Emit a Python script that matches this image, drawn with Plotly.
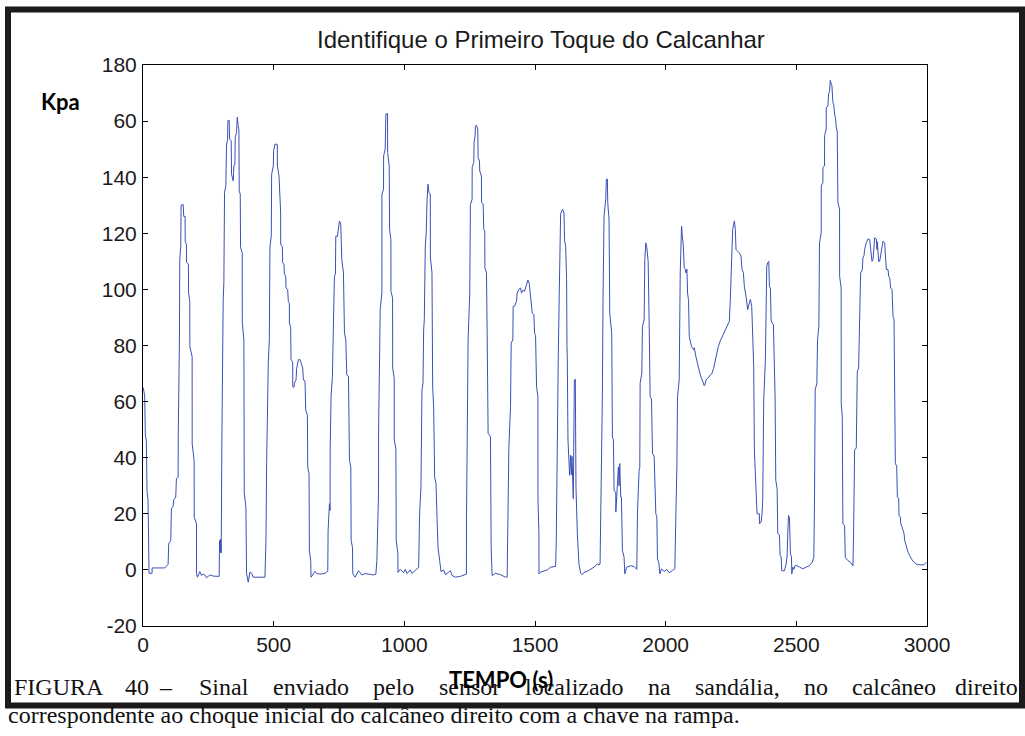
import plotly.graph_objects as go

# (tempo [s], pressao [kPa])
amostras = [
    (1,65),(6.5,62),(9,48),(12.9,46),(15.4,28),(19.2,25),(23.1,-1.2),(34.6,-1.2),(35,0.7),(83.2,0.7),
    (96,2),(98.5,9.4),(106.2,10.5),(108.7,22),(115.1,22.5),(117.7,25),(125.3,26),(127.9,32.6),(134.3,33),
    (135,48.7),(139.4,82),(140.7,110.7),(144.5,115.4),(145.8,130),(153.5,130.3),(156,126),(161.1,126),
    (161.5,117),(166.3,116),(166.5,109.7),(173.9,109),(174,99),(179,95.7),(179.3,79.6),(188,76),(188.2,45),
    (195.7,39),(196,18.8),(204.6,16.5),(205,-1.3),(208.4,-2.6),(217.4,-0.6),(223.8,-2),(230.2,-1.5),
    (236.6,-1.8),(243,-2.8),(255.7,-1.8),(268.5,-2.2),(287.7,-2.3),(291.5,-2.3),(292.8,10.5),(295.4,6.3),
    (296.6,11),(299.2,6),(301.8,46),(304.3,82),(306.9,96.4),(309.4,102.4),(312,134.6),(317.1,137),
    (319.7,151.8),(323.5,153),(324.8,160.2),(329.9,160.3),(331.2,153.6),(337.5,153),(338.8,141),
    (345.2,138.7),(347.8,144),(351.6,144.6),(352.9,154.2),(358,156),(360.6,161.4),(364.4,158.4),(367,157),
    (368.2,135),(372.1,134),(373.3,115),(379.7,113),(380,88),(386.1,82),(387.4,27.3),(393.8,22.4),
    (396.3,-1.3),(402.7,-4.4),(409.1,-0.8),(415.5,-1.2),(421.9,-2.6),(466.7,-2.6),(470.5,10.5),(473.1,38),
    (479.4,73.8),(483.3,82),(485.8,115.4),(490.9,119),(492.2,141),(498.6,144),(499.9,149.4),(505,151.8),
    (513.9,151.7),(514.3,144),(520.4,140.5),(524.2,128),(526.7,127.5),(527,116),(533.1,115.2),(534.4,109.5),
    (539.5,109),(540.8,105.3),(545.9,105),(547.2,100.5),(553.6,100),(556.1,95.7),(560,95),(560.3,88),
    (565.1,86.5),(566.4,75),(572.8,74),(573,65.3),(577.9,65.1),(579.1,66.5),(585.5,67.7),(588.1,71.9),
    (594.5,74.9),(600.9,75),(607.3,72.5),(611.1,72),(613.7,67.7),(620,67.3),(622.6,57),(629,55.2),
    (630.3,36.7),(635.4,34.3),(636.7,6.9),(641.8,3.3),(643.1,-2.6),(652,-1.2),(658.4,-0.5),(664.8,-1.3),
    (677.6,-1.5),(696.7,-1.2),(707,-0.5),(708.3,14),(713.4,23.6),(715.9,21.2),(716.2,42.7),(719.8,62.4),
    (724.9,68.9),(728.7,88),(732.6,104.7),(736.4,105.5),(737.7,119),(744,118.9),(747.9,122),(751.7,124.4),
    (756.8,123.2),(760.7,110.7),(767,105.9),(770.9,84.4),(776,82),(779.8,69.5),(786.2,69),(788.8,57),
    (790.1,39),(795.2,36.7),(796.5,10.5),(801.6,8),(802.9,-1.4),(811.8,-2.6),(824.6,-0.3),(837.4,-1.8),
    (850.1,-1.3),(869.3,-1.6),(882.1,-1.8),(891,-1.6),(894.9,3.3),(901.3,27.3),(901.5,49.8),(907.7,92.8),
    (914.1,98.8),(914.3,134),(920.5,135.7),(920.7,147.6),(926.8,150),(929.4,162.5),(935.8,162.7),
    (936,148.8),(942.2,144),(943.5,121.4),(948.6,117.8),(948.8,99.3),(955,97),(955.5,71.9),(961.3,68.3),
    (961.5,46.3),(967.7,43.3),(969,10.5),(975.4,5.7),(975.6,-0.9),(984.4,0.2),(997.2,-1),(1003.5,0.2),
    (1009.9,-1.3),(1022.7,0),(1029.1,-1.2),(1041.9,-0.3),(1054.7,0.9),(1058.5,20),(1063.6,29.6),
    (1067.5,64.2),(1071.3,66.5),(1073.9,85.6),(1076.4,89.2),(1080.2,115.4),(1084.1,120.8),(1086.6,131),
    (1090.5,137.5),(1094.3,134.5),(1099.4,134),(1099.7,111.3),(1105.8,106),(1108.4,65.3),(1112.2,58.2),
    (1116.1,33.1),(1121.2,30.8),(1125,18.8),(1128.9,8.1),(1135.2,3.3),(1140.3,-0.6),(1150.6,0),(1157,-1.7),
    (1169.8,-0.8),(1176.2,-0.3),(1182.6,-2),(1195.4,-2.6),(1214.5,-2.3),(1227.3,-1.7),(1237.6,-1.5),
    (1238,18.8),(1240.1,41.5),(1244,82),(1250.3,98.7),(1252.9,130.3),(1259.3,132.1),(1259.6,143.5),
    (1265.7,145.3),(1267,152.4),(1270.8,154.8),(1272.1,158.1),(1275.9,158.6),(1281,157),(1282.3,147),
    (1287.4,145.8),(1288.7,142.2),(1295.1,140.4),(1295.4,131),(1301.5,130.5),(1304,121.4),(1307.9,120.8),
    (1308.2,107.7),(1314.3,105.9),(1316.8,85.6),(1320.6,48.7),(1329.6,47.5),(1332.2,8.1),(1336,-2),
    (1348.8,-1.2),(1368,-1.7),(1387.1,-2.6),(1393.5,-2.6),(1396.1,12.9),(1399.9,43.3),(1406.3,58.2),
    (1408.9,80.9),(1415.2,82),(1416.5,94),(1421.6,94),(1429.3,95.7),(1431.9,98.7),(1438.3,100),
    (1444.6,100.5),(1448.5,98.7),(1454.9,99.8),(1460,99.3),(1463.8,100.5),(1467.6,101.8),(1472.8,103.3),
    (1477.9,102.2),(1480.4,99.8),(1483,96.4),(1486.8,94),(1489.4,91.6),(1495.8,91),(1498.3,84.4),
    (1502.2,83.5),(1506,65.3),(1511.1,61.8),(1511.4,24.8),(1515,12.9),(1515.3,-1.4),(1521.3,-0.8),
    (1534.1,-0.5),(1546.9,0),(1559.7,1),(1572.5,1),(1578.9,1.2),(1581.4,10.5),(1585.3,58.2),(1589.1,76),
    (1592.9,98.8),(1595.5,125),(1598,126.8),(1601.9,128),(1605.7,128.6),(1610.8,127.2),(1613.4,117.2),
    (1617.2,115.4),(1621,103.5),(1622.3,80),(1623.6,74.9),(1626.2,46.3),(1632.5,33.7),(1636.4,40.9),
    (1639,34),(1641.5,40.5),(1644.1,33.7),(1646.6,25.4),(1650.5,67.7),(1654.3,68),(1656.8,29.6),
    (1662,12.9),(1668.3,2),(1674.7,-1.2),(1681.1,-1.7),(1687.5,-0.9),(1700.3,-0.5),(1713.1,0.2),
    (1725.9,1),(1738.7,2.1),(1745,1.7),(1748.9,2.1),(1751.4,18.8),(1755.3,28.4),(1757.8,61.8),
    (1760.4,97.5),(1764.2,126.2),(1768.1,129.7),(1770.6,132.1),(1773.2,139.3),(1777,139.3),(1778.3,131),
    (1783.4,125),(1786,91.6),(1789.8,88),(1793.6,84.4),(1796.2,47.4),(1800,46.5),(1802.6,28.4),(1809,27.5),
    (1809.3,20.6),(1812.8,27.2),(1819.2,36.7),(1821.7,30),(1824.3,37.9),(1828.1,26),(1830.7,26),
    (1834.5,6.9),(1840.9,4.5),(1843.5,-1.4),(1851.1,1),(1866.5,1.5),(1879.3,1.2),(1889.5,0.2),(1892,20),
    (1898.4,35.5),(1901,36.5),(1902.3,66.5),(1908.7,70.1),(1911.2,86.8),(1917.6,89.2),(1920.2,110.7),
    (1924,116.6),(1927.9,115),(1930.4,112),(1933,110),(1936.8,88),(1940.6,61.8),(1945.7,61),(1949.6,41.5),
    (1956,40.5),(1962.4,20),(1966.2,19),(1968.7,3.9),(1973.9,2.5),(1977.7,-1.4),(1984.1,0.4),
    (1994.3,-0.6),(2004.5,0.2),(2013.5,-1),(2026.3,-0.2),(2035.2,0.4),(2039.1,20),(2042.9,36.7),
    (2045.4,61.8),(2051.8,67.7),(2055.7,105.9),(2058.2,119),(2060.8,122.6),(2063.3,119.5),(2067.2,116),
    (2071,107.7),(2074.9,107.2),(2077.4,105.9),(2081.3,107.2),(2083.8,98.7),(2087.6,96),(2090.2,83.2),
    (2094,82),(2099.2,79.6),(2106.8,78.5),(2109.4,79.2),(2115.8,76),(2122.1,73.1),(2128.5,71.3),
    (2132.4,69.5),(2137.5,68.3),(2141.3,67.1),(2147.7,65.6),(2150.3,66),(2154.1,67.7),(2160.5,68.3),
    (2166.9,68.9),(2177.1,70.1),(2183.5,71.9),(2189.9,74.9),(2196.3,76.7),(2201.4,79.6),(2207.8,81.4),
    (2214.2,82.6),(2221.8,84.4),(2228.2,85.6),(2234.6,86.8),(2241,88),(2243.6,88.6),(2247.4,96.4),
    (2250,103.5),(2253.8,113.1),(2256.4,121.4),(2260.2,123.2),(2262.8,124.4),(2266.6,121.4),(2269.2,114.2),
    (2275.5,113.6),(2281.9,113),(2288.3,111.9),(2292.2,107.1),(2297.3,106),(2301.1,101.1),(2307.5,97.5),
    (2311.3,94),(2313.9,92.8),(2320.3,95.2),(2324.1,96.4),(2329.3,94),(2333.1,82),(2336.9,72.5),
    (2339.5,42.7),(2345.8,27.2),(2349.7,20),(2358.6,20),(2358.9,16.5),(2365,17),(2368.9,20),(2371.4,25),
    (2375.2,60.6),(2381.6,74.9),(2384.2,88),(2386.8,108.3),(2390.6,109.5),(2394.5,110),(2397,101.1),
    (2400.8,100.5),(2403.4,89.2),(2407.2,88),(2412.3,87.4),(2416.2,75),(2418.7,61.8),(2421.3,32),
    (2426.4,29),(2429,12.9),(2435.4,12.5),(2437.9,5.1),(2441.7,4.8),(2444.3,-0.3),(2454.5,-0.3),
    (2460.9,2.1),(2464.8,5),(2467.3,12.9),(2469.9,19.4),(2473.7,18.6),(2476.3,12.9),(2477.5,5.7),
    (2481.4,4.8),(2482.7,-1.4),(2486.5,1),(2490.3,0.2),(2495.4,1.5),(2503.1,1.5),(2512,1),(2524.8,0.4),
    (2537.6,1),(2550.4,1.5),(2560.6,2.7),(2567,4.5),(2569.6,26),(2572.1,64.2),(2578.5,66.5),(2581.1,82),
    (2586.2,86.8),(2588.7,116.6),(2595.1,120.2),(2595.4,136.9),(2601.5,138.1),(2601.8,143.5),(2607.9,144),
    (2608.2,154.8),(2614.3,157.2),(2614.6,164.9),(2620.7,165.3),(2623.3,169.7),(2627.1,170.5),
    (2629.7,174.5),(2633.5,173.3),(2636.1,172.7),(2639.9,166.7),(2643.7,165.5),(2646.3,162.5),
    (2650.1,161),(2652.7,157.8),(2656.5,156.5),(2659.1,131),(2665.4,128.6),(2665.7,104.7),(2671.5,100.5),
    (2671.8,59.4),(2675.7,54.6),(2678.2,16.5),(2684.6,15.8),(2687.2,4.5),(2697.4,3.3),(2707.6,2.7),
    (2716.6,1.5),(2719.1,12.9),(2723,42.7),(2729.4,43.5),(2733.2,70.7),(2738.3,72),(2742.2,92.8),
    (2746,105.9),(2752.4,107),(2754.9,111.3),(2758.8,112),(2761.3,114.2),(2767.7,116.6),(2774.1,118),
    (2780.5,117.8),(2784.3,113.6),(2789.5,110),(2793.3,110.5),(2797.1,114.8),(2799.7,118.4),(2806.1,118),
    (2808.6,114.2),(2809.9,117),(2815,110),(2818.9,110),(2822.7,112.7),(2827.8,114.8),(2831.6,117.2),
    (2838,116.6),(2840.6,111.9),(2844.4,107.1),(2850.8,107.1),(2853.4,104.7),(2857.2,104.1),(2861.1,100.5),
    (2866.2,100),(2869.9,90.4),(2873.8,89.2),(2876.4,60.6),(2878.9,37.9),(2884,37),(2886.6,26),
    (2891.7,25.5),(2893,19.4),(2898.1,18.8),(2899.4,16.5),(2904.5,15.3),(2908.3,14),(2912.2,12.9),
    (2914.7,10.5),(2921.1,8.1),(2927.5,6.3),(2933.9,5.1),(2940.3,3.9),(2950.5,2.7),(2959.5,2.1),
    (2972.2,1.8),(2985,1.8),(2991.4,2.1),(2997.8,2.7),
]
tempo = [p[0] for p in amostras]
kpa = [p[1] for p in amostras]

x_ticks = [0, 500, 1000, 1500, 2000, 2500, 3000]
x_tick_text = ["0", "500", "1000", "1500", "2000", "2500", "3000"]
y_ticks = [-20, 0, 20, 40, 60, 80, 100, 120, 140, 160, 180]
y_tick_text = ["-20", "0", "20", "40", "60", "80", "100", "120", "140", "60", "180"]

titulo = "Identifique o Primeiro Toque do Calcanhar"
rotulo_y = "Kpa"
rotulo_x = "TEMPO (s)"
legenda_l1 = ["FIGURA", "40", "\u2013", "Sinal", "enviado", "pelo", "sensor", "localizado",
              "na", "sand\u00e1lia,", "no", "calc\u00e2neo", "direito"]
legenda_l2 = "correspondente ao choque inicial do calc\u00e2neo direito com a chave na rampa."

W, H = 1025, 736
L, R, T, B = 143, 927, 65, 626


def pxx(x):
    return (x - L) / (R - L)


def pxy(y):
    return (B - y) / (B - T)


fig = go.Figure()
fig.add_trace(go.Scatter(x=tempo, y=kpa, mode="lines",
                         line=dict(color="#3a50b6", width=1), hoverinfo="skip",
                         showlegend=False))

sans = "Liberation Sans, Arial, sans-serif"
serif = "Liberation Serif, Times New Roman, serif"
axis_common = dict(showgrid=False, zeroline=False, showline=True, linecolor="black",
                   linewidth=1, mirror="ticks", ticks="inside", ticklen=5,
                   tickcolor="black", tickwidth=1,
                   tickfont=dict(family=sans, size=21, color="#1a1a1a"))
fig.update_xaxes(range=[0, 3000], tickvals=x_ticks, ticktext=x_tick_text,
                 ticklabelstandoff=0, **axis_common)
fig.update_yaxes(range=[-20, 180], tickvals=y_ticks, ticktext=y_tick_text,
                 ticklabelstandoff=1, **axis_common)

ann = []
ann.append(dict(text=titulo, x=pxx(541), y=pxy(40), xref="paper", yref="paper",
                xanchor="center", yanchor="middle", showarrow=False,
                font=dict(family=sans, size=24, color="#1a1a1a")))
ann.append(dict(text="<b>%s</b>" % rotulo_y, x=pxx(60), y=pxy(102), xref="paper", yref="paper",
                xanchor="center", yanchor="middle", showarrow=False,
                font=dict(family="Lato, Open Sans, sans-serif", size=22, color="black")))

# justified first caption line: left x of each word (pixels)
word_x = [12, 123, 157, 197, 270.7, 371.1, 436.8, 522.5, 645.5, 692.6, 801.6, 850]
for i, w in enumerate(legenda_l1):
    if i < len(word_x):
        ann.append(dict(text=w, x=pxx(word_x[i]), y=pxy(687), xref="paper", yref="paper",
                        xanchor="left", yanchor="middle", showarrow=False,
                        font=dict(family=serif, size=24, color="#111111")))
    else:
        ann.append(dict(text=w, x=pxx(1020), y=pxy(687), xref="paper", yref="paper",
                        xanchor="right", yanchor="middle", showarrow=False,
                        font=dict(family=serif, size=24, color="#111111")))
ann.append(dict(text=legenda_l2, x=pxx(6), y=pxy(714.6), xref="paper", yref="paper",
                xanchor="left", yanchor="middle", showarrow=False,
                font=dict(family=serif, size=24, color="#111111")))
ann.append(dict(text="<b>%s</b>" % rotulo_x, x=pxx(501), y=pxy(679), xref="paper", yref="paper",
                xanchor="center", yanchor="middle", showarrow=False,
                font=dict(family="Lato, Open Sans, sans-serif", size=22, color="black")))

shapes = [dict(type="rect", xref="paper", yref="paper",
               x0=pxx(8), x1=pxx(1022), y0=pxy(705.5), y1=pxy(9.5),
               line=dict(color="#1c1a1b", width=6), fillcolor="rgba(0,0,0,0)", layer="above")]

fig.update_layout(width=W, height=H, autosize=False,
                  margin=dict(l=L, r=W - R, t=T, b=H - B, pad=0),
                  paper_bgcolor="white", plot_bgcolor="white",
                  annotations=ann, shapes=shapes, showlegend=False)

fig.write_html("out.html", config={"displayModeBar": False, "staticPlot": True},
               post_script="document.body.style.margin='0px';document.body.style.overflow='hidden';")
